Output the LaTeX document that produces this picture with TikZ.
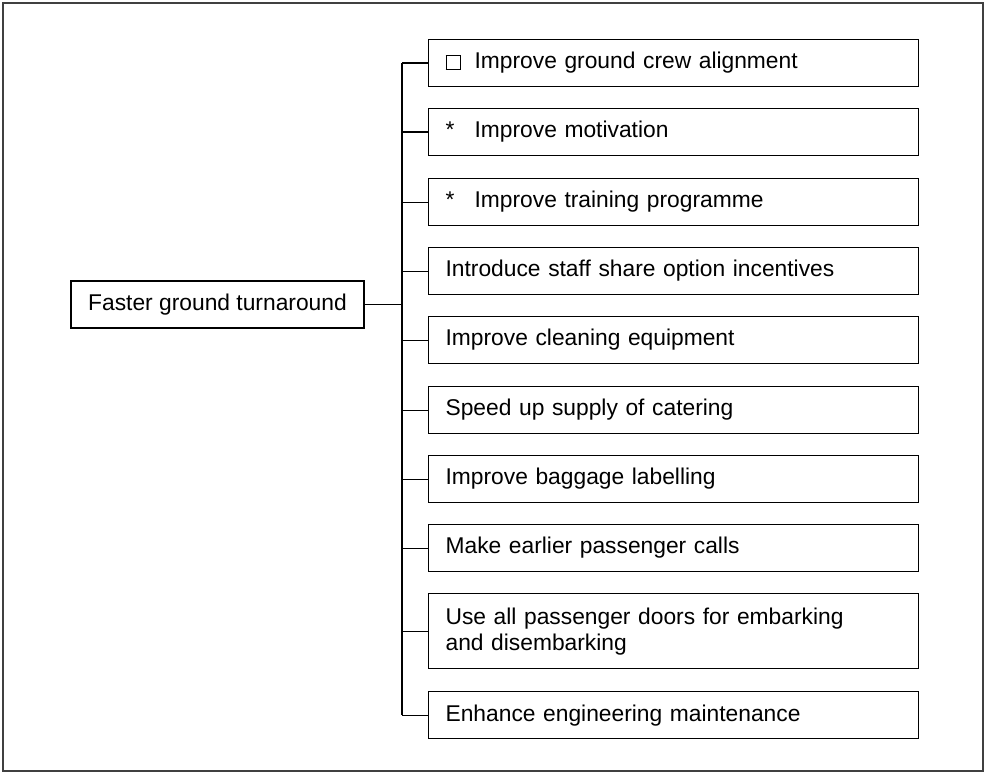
\documentclass[tikz,border=0pt]{standalone}
\usepackage{fontspec}
\setmainfont{Liberation Sans}
\begin{document}
\begin{tikzpicture}[x=1pt,y=-1pt,
  every node/.style={font=\fontsize{22.8pt}{26pt}\selectfont},
  itembox/.style={draw=black, line width=1.2pt, anchor=north west,
    minimum height=47pt, inner xsep=17pt, inner ysep=0pt,
    text width=455.6pt, align=left},
  rootbox/.style={draw=black, line width=1.2pt, minimum height=47pt,
    minimum width=293pt, inner xsep=16pt, align=left},
  link/.style={line width=1.2pt, black}]
\newcommand{\mk}[1]{\makebox[29pt][l]{#1}}
\newcommand{\sqmark}{{\setlength\fboxsep{0pt}\setlength\fboxrule{1.2pt}\fbox{\rule{0pt}{13pt}\rule{13pt}{0pt}}}}
\useasboundingbox (0,0) rectangle (985,773);
% outer frame
\draw[line width=2pt, black!75] (3,3) rectangle (983,771);

% root
\node[rootbox] (root) at (217.5,304.5) {Faster ground turnaround};
\coordinate (bus) at (402,304.5);

% branches
\node[itembox] (b1) at (428,39) {\mk{\sqmark}Improve ground crew alignment};
\node[itembox] (b2) at (428,108) {\mk{*}Improve motivation};
\node[itembox] (b3) at (428,178) {\mk{*}Improve training programme};
\node[itembox] (b4) at (428,247) {Introduce staff share option incentives};
\node[itembox] (b5) at (428,316) {Improve cleaning equipment};
\node[itembox] (b6) at (428,386) {Speed up supply of catering};
\node[itembox] (b7) at (428,455) {Improve baggage labelling};
\node[itembox] (b8) at (428,524) {Make earlier passenger calls};
\node[itembox, minimum height=75pt] (b9) at (428,593) {Use all passenger doors for embarking\\and disembarking};
\node[itembox] (b10) at (428,691) {Enhance engineering maintenance};

% connectors
\draw[link] (root.east) -- (bus);
\draw[link] (bus |- b1.west) -- (bus |- b10.west);
\foreach \b in {b1,b2,b3,b4,b5,b6,b7,b8,b9,b10}
  \draw[link] (bus |- \b.west) -- (\b.west);
\end{tikzpicture}
\end{document}
